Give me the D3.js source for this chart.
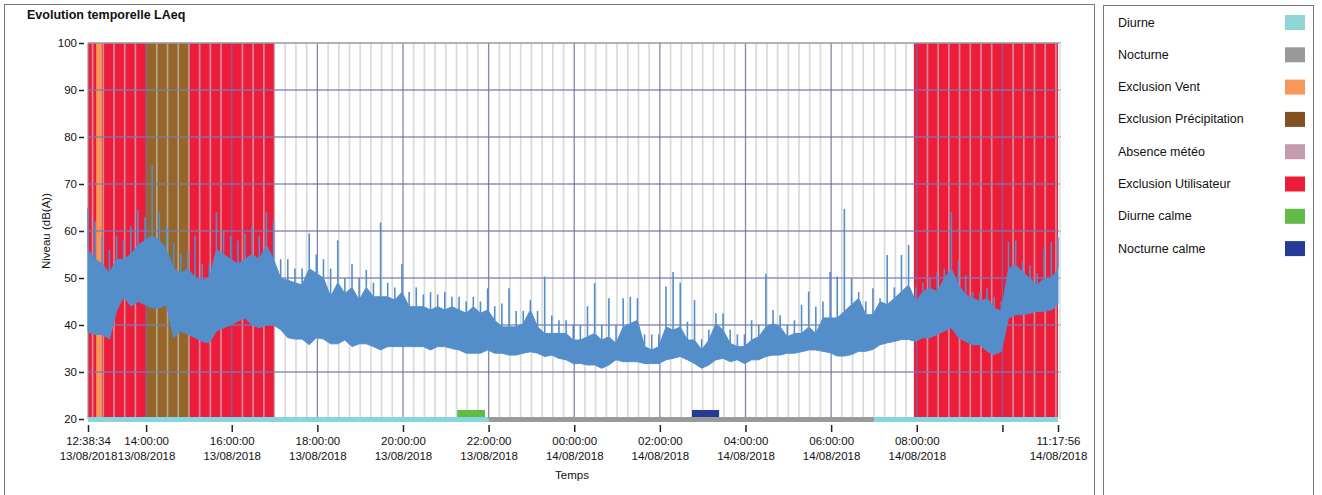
<!DOCTYPE html>
<html>
<head>
<meta charset="utf-8">
<script src="https://cdn.jsdelivr.net/npm/d3@7"></script>
<style>
  body { margin: 0; background: #fff; }
  svg { display: block; font-family: "Liberation Sans", Arial, sans-serif; }
</style>
</head>
<body>
<div id="chart"></div>
<script>
// legend categories and colours
const categories = ["Diurne", "Nocturne", "Exclusion Vent", "Exclusion Précipitation",
    "Absence météo", "Exclusion Utilisateur", "Diurne calme", "Nocturne calme"];
const categoryColors = ["#8ed6d6", "#999999", "#f8975a", "#83501f",
    "#c49cad", "#ed1c3a", "#62bb46", "#263a96"];

// exclusion periods (vertical fills)
const exclusionType = ["Exclusion Utilisateur", "Exclusion Utilisateur", "Exclusion Vent", "Exclusion Précipitation"];
const exclusionFrom = ["13/08/2018 12:38:34", "14/08/2018 07:56:00", "13/08/2018 12:50:00", "13/08/2018 14:00:00"];
const exclusionTo = ["13/08/2018 17:00:00", "14/08/2018 11:17:56", "13/08/2018 12:58:00", "13/08/2018 15:00:00"];

// day / night periods (bottom band)
const periodType = ["Diurne", "Nocturne", "Diurne"];
const periodFrom = ["13/08/2018 12:38:34", "13/08/2018 22:00:00", "14/08/2018 07:00:00"];
const periodTo = ["13/08/2018 22:00:00", "14/08/2018 07:00:00", "14/08/2018 11:17:56"];

// calm periods
const calmType = ["Diurne calme", "Nocturne calme"];
const calmFrom = ["13/08/2018 21:16:00", "14/08/2018 02:45:00"];
const calmTo = ["13/08/2018 21:55:00", "14/08/2018 03:23:00"];

// LAeq, read every 10 min from 12:38:34: bottom of band, top of band, spike peak
const levelStart = "13/08/2018 12:38:34";
const levelLow = [38.5, 38, 38, 37, 43, 46, 44, 45, 44.3, 43.6, 43.6, 44.3, 37.3, 38.7, 38, 37.3, 36.5, 36.2, 38.7, 39.4,
    40, 40.8, 41.5, 40, 39.4, 40, 40, 39, 37.3, 37, 37, 35.8, 37.3, 37, 36, 36, 36.8, 35.4, 36, 36,
    35.4, 34.7, 35.4, 35.4, 35.4, 35.4, 35.4, 35.4, 34.7, 35.4, 35.4, 35, 34.7, 34, 34, 34, 34.7, 34, 34, 33.6,
    33.6, 34, 34.3, 34, 33.3, 33.6, 32.9, 32.6, 31.8, 31.8, 31.5, 31.5, 30.8, 31.5, 32.6, 32.2, 32.2, 32.2, 31.8, 31.8,
    31.8, 32.6, 32.9, 33.3, 32.6, 31.8, 30.8, 31.5, 32.6, 32.9, 32.2, 32.6, 31.8, 32.6, 32.6, 33.3, 33.6, 33.6, 34, 34,
    34.3, 34.7, 34.7, 34.4, 34.1, 33.4, 33.4, 33.7, 34.4, 34.4, 34.8, 35.8, 36.2, 36.5, 36.9, 36.9, 36.5, 37.3, 37.3, 38,
    38.7, 39.4, 37.3, 36.5, 35.8, 35.8, 34.4, 33.7, 34.4, 41.5, 42.2, 42.2, 42.5, 42.9, 42.9, 43.2, 44.3];
const levelHigh = [56, 54, 53, 51, 54, 54, 55, 57, 58, 59, 58, 56, 52, 51, 52, 50, 49.5, 50, 56, 55,
    54, 53, 54, 55, 54, 57, 54, 50, 49.5, 49, 48.5, 52, 51, 50, 46, 49, 46.7, 48, 45.3, 48,
    46, 46, 46, 45.3, 47, 43.9, 43.9, 43.9, 43.2, 43.9, 43.2, 43.9, 43.2, 42.5, 43.9, 42.5, 43.2, 41, 39.6, 39.6,
    39.6, 40.3, 43.2, 39.6, 38.2, 38.2, 38.2, 38.2, 36.8, 36.8, 37.5, 38.2, 36.8, 37.5, 36.1, 39.6, 40.3, 41, 35.4, 34.7,
    35.4, 39.6, 38.9, 39.6, 36.8, 36.8, 34.7, 36.8, 40.3, 38.9, 36.1, 35.4, 35.4, 36.8, 37.5, 39.6, 40.3, 39.6, 37.5, 38.2,
    38.2, 39.6, 38.2, 41.5, 41.5, 41.5, 42.9, 44.3, 45.7, 42.2, 42.2, 45, 44.3, 45.7, 47.1, 48.5, 45, 47.1, 47.8, 47.1,
    49.9, 52, 48.5, 46.4, 45.7, 45, 45.7, 43.6, 42.9, 52, 52.7, 51.3, 49.9, 48.5, 49.9, 49.9, 52];
const levelPeak = [65, 62, 59, 56, 59, 58, 61, 64.5, 63, 74, 64, 61, 57.5, 55, 56, 59, 53, 53, 64, 60,
    59, 58, 59.5, 61, 59, 64, 62, 54, 54, 52, 52, 59.5, 55, 54, 52, 58, 50, 53, 50, 51.7,
    49, 61.8, 49, 48, 53, 47, 48, 46.5, 47, 46.5, 47, 46, 46, 45, 46, 45, 47.8, 44, 44.6, 47.8,
    43, 43, 45.3, 43, 50.3, 42, 41, 41, 40, 40, 44, 48.9, 40, 45.7, 40, 45.7, 46, 45.7, 38, 38,
    38, 48.2, 51.3, 49, 40.7, 45.3, 37, 39, 42.5, 42.5, 39, 38, 38, 41, 40, 50.9, 43.2, 42.1, 40, 41,
    44.3, 47.1, 43.9, 45, 51.3, 50.3, 64.7, 49.9, 47, 45, 47.8, 45.7, 54.9, 48, 54.9, 57, 48, 49, 50, 51.3,
    52, 64, 53.4, 50.6, 47.1, 47, 47.8, 46, 45, 57.7, 58, 53.4, 52.7, 51, 56.3, 57.7, 58.7];

const yTicks = [20, 30, 40, 50, 60, 70, 80, 90, 100];
const xTickTimes = ["13/08/2018 12:38:34", "13/08/2018 14:00:00", "13/08/2018 16:00:00", "13/08/2018 18:00:00",
    "13/08/2018 20:00:00", "13/08/2018 22:00:00", "14/08/2018 00:00:00", "14/08/2018 02:00:00",
    "14/08/2018 04:00:00", "14/08/2018 06:00:00", "14/08/2018 08:00:00", "14/08/2018 10:00:00", "14/08/2018 11:17:56"];
const xTickShown = [true, true, true, true, true, true, true, true, true, true, true, false, true];

const width = 1322;
const height = 495;
const parse = d3.timeParse("%d/%m/%Y %H:%M:%S");
const fmtTime = d3.timeFormat("%H:%M:%S");
const fmtDate = d3.timeFormat("%d/%m/%Y");
const colorOf = d3.scaleOrdinal().domain(categories).range(categoryColors);
// precipitation fill looks lighter inside the plot
const plotColor = c => c === "Exclusion Précipitation" ? "#966528" : colorOf(c);

const tStart = parse(periodFrom[0]);
const tEnd = parse(periodTo[periodTo.length - 1]);

const svg = d3.select("#chart").append("svg")
    .attr("width", width)
    .attr("height", height);

// boxes
svg.append("rect").attr("x", 4.5).attr("y", 4.5).attr("width", 1090).attr("height", 500)
    .attr("fill", "none").attr("stroke", "#777").attr("stroke-width", 1);
svg.append("rect").attr("x", 1103.5).attr("y", 5.5).attr("width", 1210).attr("height", 500)
    .attr("width", 210)
    .attr("fill", "none").attr("stroke", "#777").attr("stroke-width", 1);

svg.append("text")
    .attr("x", 27).attr("y", 19)
    .style("font-size", "12.5px").style("font-weight", "bold").attr("fill", "#111")
    .text("Evolution temporelle LAeq");

const x = d3.scaleTime().domain([tStart, tEnd]).range([88, 1058]);
const y = d3.scaleLinear().domain([20, 100]).range([419, 43]);
const plotRight = 1061;

// exclusion fills
svg.append("g").selectAll("rect")
    .data(exclusionType.map((t, i) => ({ type: t, from: parse(exclusionFrom[i]), to: parse(exclusionTo[i]) })))
    .join("rect")
    .attr("x", d => x(d.from))
    .attr("width", d => x(d.to) - x(d.from))
    .attr("y", y(100))
    .attr("height", y(20) - y(100))
    .attr("fill", d => plotColor(d.type));

// minor grid every 15 min
const majors = d3.timeHour.every(2).range(tStart, tEnd).map(d => +d);
const minors = d3.timeMinute.every(15).range(tStart, tEnd).filter(d => !majors.includes(+d));
svg.append("g").selectAll("line")
    .data(minors)
    .join("line")
    .attr("x1", d => x(d)).attr("x2", d => x(d))
    .attr("y1", y(100)).attr("y2", y(20))
    .attr("stroke", "#c6c6c6").attr("stroke-opacity", 0.65).attr("stroke-width", 1.7);

// major grid
svg.append("g").selectAll("line")
    .data(yTicks.filter(v => v > 20 && v < 100))
    .join("line")
    .attr("x1", 88).attr("x2", plotRight)
    .attr("y1", d => y(d)).attr("y2", d => y(d))
    .attr("stroke", "#7a7ab0").attr("stroke-opacity", 0.85).attr("stroke-width", 1.5);
svg.append("g").selectAll("line")
    .data(majors.map(d => new Date(d)))
    .join("line")
    .attr("x1", d => x(d)).attr("x2", d => x(d))
    .attr("y1", y(100)).attr("y2", y(20))
    .attr("stroke", "#6e6ea8").attr("stroke-opacity", 0.85).attr("stroke-width", 1.3);

// frame
svg.append("line").attr("x1", 88).attr("x2", plotRight).attr("y1", y(100)).attr("y2", y(100))
    .attr("stroke", "#999").attr("stroke-width", 1.5);
svg.append("line").attr("x1", 88).attr("x2", 88).attr("y1", y(100)).attr("y2", y(20))
    .attr("stroke", "#999").attr("stroke-width", 1.2);
svg.append("line").attr("x1", plotRight - 1).attr("x2", plotRight - 1).attr("y1", y(100)).attr("y2", y(20))
    .attr("stroke", "#ddd").attr("stroke-width", 1.5);

// LAeq series
const t0 = parse(levelStart);
const levels = levelLow.map((lo, i) => {
    const t = d3.timeMinute.offset(t0, i * 10);
    return { t: t > tEnd ? tEnd : t, lo, hi: levelHigh[i], pk: levelPeak[i] };
});
const area = d3.area()
    .x(d => x(d.t))
    .y0(d => y(d.lo))
    .y1(d => y(d.hi));
svg.append("path")
    .datum(levels)
    .attr("d", area)
    .attr("fill", "#538ecb")
    .attr("stroke", "#538ecb")
    .attr("stroke-width", 1);
svg.append("g").selectAll("line")
    .data(levels.filter(d => d.pk > d.hi))
    .join("line")
    .attr("x1", d => x(d.t)).attr("x2", d => x(d.t))
    .attr("y1", d => y(d.hi)).attr("y2", d => y(d.pk))
    .attr("stroke", "#538ecb").attr("stroke-width", 1.6);

// bottom band and calm periods
svg.append("g").selectAll("rect")
    .data(periodType.map((t, i) => ({ type: t, from: parse(periodFrom[i]), to: parse(periodTo[i]) })))
    .join("rect")
    .attr("x", d => x(d.from))
    .attr("width", d => x(d.to) - x(d.from) + (d.to === tEnd ? 3 : 0))
    .attr("y", y(20) - 2)
    .attr("height", 5)
    .attr("fill", d => d.type === "Diurne" ? "#86d6e2" : "#9a9a9a");
svg.append("g").selectAll("rect")
    .data(calmType.map((t, i) => ({ type: t, from: parse(calmFrom[i]), to: parse(calmTo[i]) })))
    .join("rect")
    .attr("x", d => x(d.from))
    .attr("width", d => x(d.to) - x(d.from))
    .attr("y", y(20) - 9)
    .attr("height", 7)
    .attr("fill", d => colorOf(d.type));

// y axis
const yAxis = svg.append("g")
    .attr("transform", "translate(84,0)")
    .call(d3.axisLeft(y).tickValues(yTicks).tickSize(5).tickPadding(2));
yAxis.select(".domain").remove();
yAxis.selectAll(".tick line").attr("stroke", "#222").attr("stroke-width", 1.5);
yAxis.selectAll(".tick text").style("font-size", "11.5px").style("font-family", null).attr("fill", "#111");

// x axis, two-line labels
const xAxis = svg.append("g")
    .attr("transform", "translate(0,425)")
    .call(d3.axisBottom(x).tickValues(xTickTimes.map(parse)).tickSize(7).tickFormat(""));
xAxis.select(".domain").remove();
xAxis.selectAll(".tick line").attr("stroke", "#222").attr("stroke-width", 1.5);
xAxis.selectAll(".tick text").each(function (d, i) {
    if (!xTickShown[i]) return;
    const t = d3.select(this).attr("y", null).attr("dy", null)
        .style("font-size", "11.5px").style("font-family", null).attr("fill", "#111");
    t.append("tspan").attr("x", 0).attr("y", 20).text(fmtTime(d));
    t.append("tspan").attr("x", 0).attr("y", 35).text(fmtDate(d));
});

svg.append("text")
    .attr("x", 572).attr("y", 479)
    .attr("text-anchor", "middle")
    .style("font-size", "11.5px").attr("fill", "#111")
    .text("Temps");
svg.append("text")
    .attr("transform", "translate(50,231) rotate(-90)")
    .attr("text-anchor", "middle")
    .style("font-size", "11.5px").attr("fill", "#111")
    .text("Niveau (dB(A))");

// legend
const legend = svg.append("g").selectAll("g")
    .data(categories)
    .join("g")
    .attr("transform", (d, i) => `translate(1118, ${22.5 + i * 32.3})`);
legend.append("text")
    .attr("y", 4)
    .style("font-size", "12.5px").attr("fill", "#111")
    .text(d => d);
legend.append("rect")
    .attr("x", 167).attr("y", -7.5)
    .attr("width", 20).attr("height", 15)
    .attr("fill", d => colorOf(d));
</script>
</body>
</html>
